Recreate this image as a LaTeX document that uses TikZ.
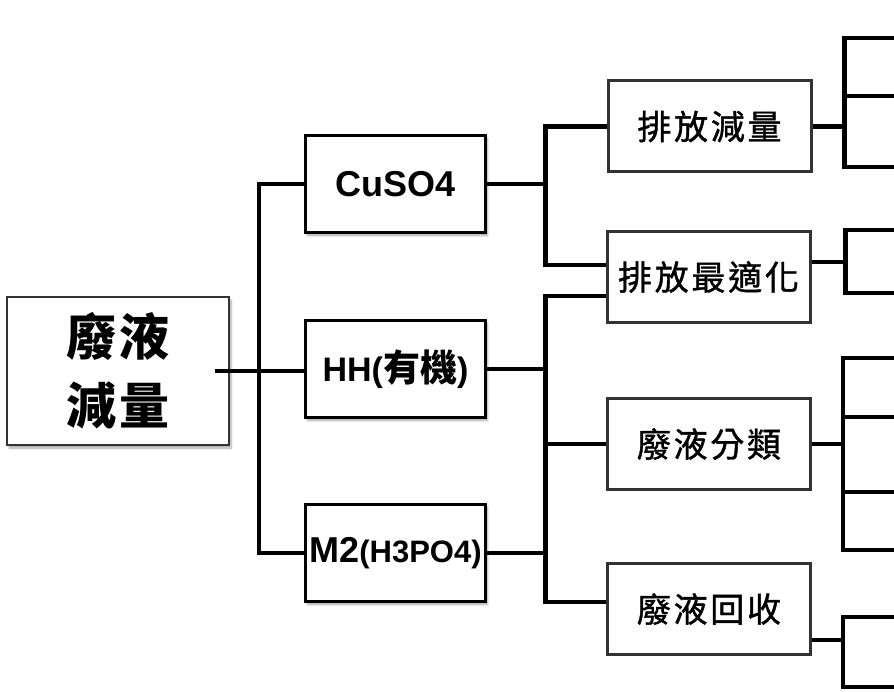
\documentclass[tikz,border=0pt]{standalone}
\usepackage{fontspec}
\setmainfont{Liberation Sans}
\newfontfamily\cjk{Noto Sans CJK TC}
\newfontfamily\cjkm[FakeBold=1.2]{Noto Sans CJK TC}
\usetikzlibrary{calc,shadows.blur}
\tikzset{
  conn/.style={line width=4.5pt, black},
  shad/.style={blur shadow={shadow xshift=2pt, shadow yshift=-3pt, shadow opacity=35, shadow blur steps=6}},
  lbox/.style={draw=black, line width=3.5pt, fill=white, minimum width=180pt, minimum height=97pt, inner sep=0pt, shad},
  rbox/.style={draw=black!80, line width=3pt, fill=white, minimum width=203pt, minimum height=91pt, inner sep=0pt,
    font=\cjkm\addfontfeature{LetterSpace=8}\fontsize{34}{34}\selectfont},
  rootbox/.style={draw=black!80, line width=1.5pt, fill=white, minimum width=222pt, minimum height=148pt, inner sep=0pt, shad,
    align=center, font=\cjk\bfseries\addfontfeature{LetterSpace=6}\fontsize{50}{69}\selectfont},
}
\begin{document}
\begin{tikzpicture}[x=1pt,y=-1pt]
\useasboundingbox (0,0) rectangle (894,692);
% nodes
\node[rootbox] (root) at (118,371) {廢液\\減量};
\node[lbox, font=\bfseries\fontsize{36}{36}\selectfont] (cu) at (395.5,184) {CuSO4};
\node[lbox] (hh) at (395.5,369) {\bfseries\fontsize{34}{34}\selectfont HH(\cjk\fontsize{37}{37}\selectfont 有機\fontspec{Liberation Sans}\bfseries\fontsize{34}{34}\selectfont)};
\node[lbox] (m2) at (395.5,553) {\bfseries\fontsize{36}{36}\selectfont M2\fontsize{31}{31}\selectfont(H3PO4)};
\node[rbox] (red) at (709.5,126.5) {排放減量};
\node[rbox] (opt) at (708.5,277) {排放最適化};
\node[rbox] (cls) at (709,444) {廢液分類};
\node[rbox] (rec) at (709,609) {廢液回收};
% left trunk
\draw[conn] ([xshift=-15pt]root.east) -- (root.east -| hh.west);
\draw[conn] (cu.west) -- ++(-45,0) coordinate (t1) |- (m2.west);
% CuSO4 group
\coordinate (optA) at ($(opt.west)+(0,-12)$);
\coordinate (optB) at ($(opt.west)+(0,19)$);
\coordinate (recA) at ($(rec.west)+(0,-7)$);
\draw[conn] (red.west) -- ++(-61,0) coordinate (t2) |- (optA);
\draw[conn] (cu.east) -- (cu.east -| t2);
% HH / M2 group
\draw[conn] (optB) -- ++(-60,0) coordinate (t3) |- (recA);
\draw[conn] (hh.east) -- (hh.east -| t3);
\draw[conn] (m2.east) -- (m2.east -| t3);
\draw[conn] (cls.west) -- (cls.west -| t3);
% right fans
\coordinate (r1a) at (894,38);
\coordinate (r1b) at (894,96);
\coordinate (r1c) at (894,167);
\coordinate (r1j) at ($(red.east)+(32,0)$);
\draw[conn] (r1a) -| (r1j) |- (r1c);
\draw[conn] (r1b) -- (r1b -| r1j);
\draw[conn] (red.east) -- (r1j);
\coordinate (r2a) at (894,230);
\coordinate (r2b) at (894,293);
\coordinate (r2j) at ($(opt.east)+(34,-15)$);
\draw[conn] (r2a) -| (r2j) |- (r2b);
\draw[conn] ($(opt.east)+(0,-15)$) -- (r2j);
\coordinate (r3a) at (894,358);
\coordinate (r3b) at (894,417);
\coordinate (r3c) at (894,492);
\coordinate (r3d) at (894,550);
\coordinate (r3j) at ($(cls.east)+(31,0)$);
\draw[conn] (r3a) -| (r3j) |- (r3d);
\draw[conn] (r3b) -- (r3b -| r3j);
\draw[conn] (r3c) -- (r3c -| r3j);
\draw[conn] (cls.east) -- (r3j);
\coordinate (r4a) at (894,617);
\coordinate (r4b) at (894,687);
\coordinate (r4j) at ($(rec.east)+(31,31)$);
\draw[conn] (r4a) -| (r4j) |- (r4b);
\draw[conn] ($(rec.east)+(0,31)$) -- (r4j);
\end{tikzpicture}
\end{document}
